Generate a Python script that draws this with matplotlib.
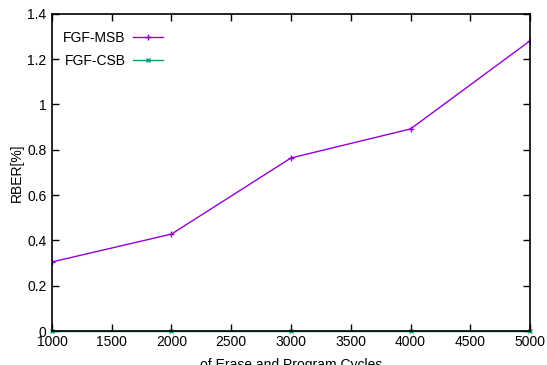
import matplotlib
matplotlib.use("Agg")
import matplotlib.pyplot as plt
from matplotlib.ticker import FuncFormatter

# ============================================================
# DATA
# ============================================================

CYCLES = [1000, 2000, 3000, 4000, 5000]
FGF_MSB = [0.305, 0.428, 0.764, 0.892, 1.281]
FGF_CSB = [0.002, 0.002, 0.002, 0.002, 0.002]

X_TICKS = [1000, 1500, 2000, 2500, 3000, 3500, 4000, 4500, 5000]
Y_TICKS = [0, 0.2, 0.4, 0.6, 0.8, 1.0, 1.2, 1.4]

plt.rcParams["font.family"] = ["Liberation Sans", "DejaVu Sans"]
plt.rcParams["font.size"] = 10


def main() -> None:
    fig = plt.figure(figsize=(5.47, 3.65), dpi=100)
    ax = fig.add_axes([0.095, 0.093, 0.874, 0.869])

    ax.plot(CYCLES, FGF_MSB, color="#9400D3", linewidth=1, marker="+",
            markersize=5, label="FGF-MSB")
    ax.plot(CYCLES, FGF_CSB, color="#009E73", linewidth=1, marker="x",
            markersize=3, label="FGF-CSB", clip_on=False)

    ax.set_xlim(1000, 5000)
    ax.set_ylim(0, 1.4)
    ax.set_xticks(X_TICKS)
    ax.set_yticks(Y_TICKS)
    ax.yaxis.set_major_formatter(FuncFormatter(lambda v, p: f"{v:g}"))

    ax.tick_params(direction="in", length=5, width=1, top=True, right=True,
                   labelsize=10, pad=3, colors="black")
    ax.tick_params(axis="y", pad=4)
    for spine in ax.spines.values():
        spine.set_linewidth(1.2)

    ax.set_ylabel("RBER[%]", fontsize=10, labelpad=2)
    ax.set_xlabel("of Erase and Program Cycles", fontsize=10, labelpad=6)

    leg = ax.legend(loc="upper left", frameon=False, markerfirst=False,
                    handlelength=2.2, handletextpad=0.5, labelspacing=0.6,
                    fontsize=10, borderaxespad=0.4, bbox_to_anchor=(0.0, 0.98))
    for t in leg.get_texts():
        t.set_ha("right")

    fig.savefig("out.png", dpi=100)
    plt.close(fig)


if __name__ == "__main__":
    main()
